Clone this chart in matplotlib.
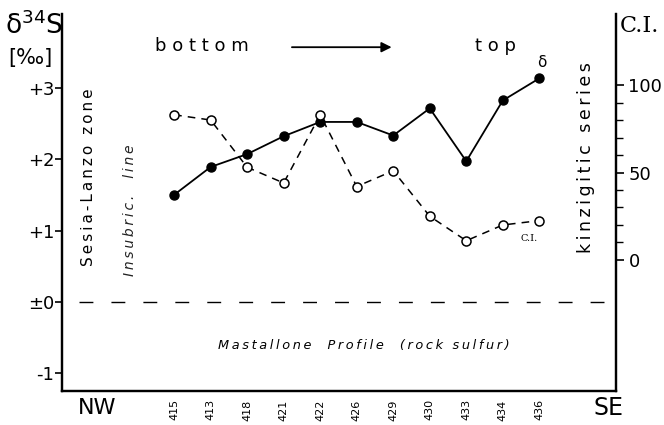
import matplotlib.pyplot as plt

# samples along the Mastallone profile, NW -> SE
samples = ['415', '413', '418', '421', '422', '426', '429', '430', '433', '434', '436']
delta34S = [1.50, 1.89, 2.07, 2.32, 2.52, 2.52, 2.33, 2.71, 1.97, 2.82, 3.13]
ci = [83, 80, 53, 44, 83, 42, 51, 25, 11, 20, 22.5]

left_ticks = [-1, 0, 1, 2, 3]
left_labels = ['-1', '±0', '+1', '+2', '+3']
right_ticks = [0, 50, 100]


def spaced(s):
    # letter-spaced lettering like the stencil text of the original
    return '\u2009'.join(s)


x = list(range(len(samples)))

fig = plt.figure(figsize=(6.64, 4.25), dpi=100)
ax = fig.add_axes([0.0934, 0.08, 0.8343, 0.887])
ax2 = ax.twinx()

ax.plot(x, delta34S, color='black', lw=1.3, marker='o', ms=6.5, zorder=3)
ax2.plot(x, ci, color='black', lw=1.1, ls=(0, (5, 4)), marker='o', ms=6.5,
         mfc='white', mec='black', mew=1.1, zorder=3)

ax.axhline(0, xmin=0.03, xmax=0.995, color='black', lw=1.0, ls=(0, (10, 13)))

ax.set_xlim(-3.07, 12.1)
ax.set_ylim(-1.245, 4.03)
ax2.set_ylim(-74.9, 140.6)

for a in (ax, ax2):
    a.spines['top'].set_visible(False)
    for s in a.spines.values():
        s.set_linewidth(1.6)

ax.set_yticks(left_ticks)
ax.set_yticklabels(left_labels, fontsize=13)
ax.tick_params(axis='y', direction='out', length=5, width=1.2, pad=0.5)
ax.set_xticks(x)
ax.set_xticklabels(samples, rotation=90, fontsize=8)
ax.tick_params(axis='x', length=0, pad=6)

ax2.set_yticks(right_ticks)
ax2.set_yticklabels([str(t) for t in right_ticks], fontsize=13)
ax2.set_yticks(list(range(0, 101, 10)), minor=True)
ax2.tick_params(axis='y', which='major', direction='out', length=6, width=1.2, pad=3)
ax2.tick_params(axis='y', which='minor', direction='out', length=5, width=1.0)

# axis titles
fig.text(0.008, 0.905, 'δ$^{34}$S', fontsize=19, ha='left', va='bottom')
fig.text(0.012, 0.84, '[‰]', fontsize=15, ha='left', va='bottom')
fig.text(0.933, 0.912, 'C.I.', fontsize=16, family='DejaVu Serif', ha='left', va='bottom')

# direction
ax.text(0.168, 0.915, 'b o t t o m', transform=ax.transAxes, fontsize=13, ha='left', va='center')
ax.annotate('', xy=(0.6, 0.912), xytext=(0.41, 0.912), xycoords='axes fraction',
            arrowprops=dict(arrowstyle='-|>', color='black', lw=1.3, mutation_scale=15))
ax.text(0.745, 0.915, 't o p', transform=ax.transAxes, fontsize=13, ha='left', va='center')

# series labels
ax.annotate('δ', (x[-1], delta34S[-1]), xytext=(2, 6), textcoords='offset points',
            fontsize=11, ha='center', va='bottom')
ax2.annotate('C.I.', (x[-2], ci[-2]), xytext=(19, -9.5), textcoords='offset points',
             fontsize=7, family='DejaVu Serif', ha='center', va='center')

# region labels
ax.text(0.047, 0.568, spaced('Sesia-Lanzo zone'), transform=ax.transAxes, rotation=90,
        fontsize=11, ha='center', va='center')
ax.text(0.123, 0.48, spaced('Insubric.  line'), transform=ax.transAxes, rotation=90,
        fontsize=10, style='italic', color='#222222', ha='center', va='center')
ax.text(0.945, 0.62, spaced('kinzigitic series'), transform=ax.transAxes, rotation=90,
        fontsize=12.5, ha='center', va='center')
ax.text(0.545, 0.122, spaced('Mastallone  Profile  (rock sulfur)'),
        transform=ax.transAxes, fontsize=9.3, style='italic', ha='center', va='center')

fig.text(0.146, 0.04, 'NW', fontsize=16, ha='center', va='center')
fig.text(0.917, 0.04, 'SE', fontsize=17, ha='center', va='center')

fig.savefig('out.png', dpi=100)
